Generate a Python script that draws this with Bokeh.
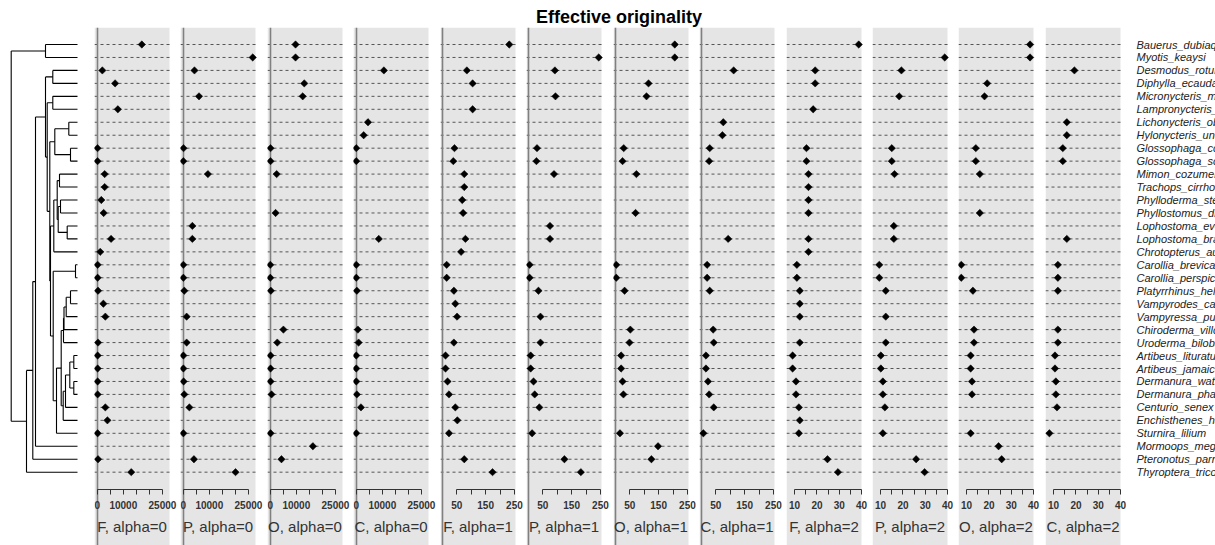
import math
import numpy as np
from bokeh.plotting import figure
from bokeh.models import Range1d, LinearAxis, FixedTicker
from bokeh.layouts import row, column
from bokeh.core.properties import value
from bokeh.embed import file_html
from bokeh.resources import INLINE

NA = None

species = [
    "Bauerus_dubiaquercus", "Myotis_keaysi", "Desmodus_rotundus", "Diphylla_ecaudata",
    "Micronycteris_microtis", "Lampronycteris_brachyotis", "Lichonycteris_obscura",
    "Hylonycteris_underwoodi", "Glossophaga_commissarisi", "Glossophaga_soricina",
    "Mimon_cozumelae", "Trachops_cirrhosus", "Phylloderma_stenops", "Phyllostomus_discolor",
    "Lophostoma_evotis", "Lophostoma_brasiliense", "Chrotopterus_auritus",
    "Carollia_brevicauda", "Carollia_perspicillata", "Platyrrhinus_helleri",
    "Vampyrodes_caraccioli", "Vampyressa_pusilla", "Chiroderma_villosum",
    "Uroderma_bilobatum", "Artibeus_lituratus", "Artibeus_jamaicensis",
    "Dermanura_watsoni", "Dermanura_phaeotis", "Centurio_senex", "Enchisthenes_hartii",
    "Sturnira_lilium", "Mormoops_megalophylla", "Pteronotus_parnellii", "Thyroptera_tricolor",
]

# ultrametric phylogeny, written clade by clade (branch lengths in Myr)
vesp = "(Bauerus_dubiaquercus:32,Myotis_keaysi:32)"
desmod = "(Desmodus_rotundus:24.7,Diphylla_ecaudata:24.7)"
micro = "(Micronycteris_microtis:24.7,Lampronycteris_brachyotis:24.7)"
gloss = ("((Lichonycteris_obscura:8.7,Hylonycteris_underwoodi:8.7):14,"
         "(Glossophaga_commissarisi:7,Glossophaga_soricina:7):15.7)")
phyllost = ("(((Mimon_cozumelae:18,Trachops_cirrhosus:18):2.3,"
            "((Phylloderma_stenops:17,Phyllostomus_discolor:17):2.3,"
            "(Lophostoma_evotis:10.3,Lophostoma_brasiliense:10.3):9):1):3.4,"
            "Chrotopterus_auritus:23.7)")
stenod = ("((((((Platyrrhinus_helleri:7,Vampyrodes_caraccioli:7):4.3,Vampyressa_pusilla:11.3):2.2,"
          "Chiroderma_villosum:13.5):0.5,Uroderma_bilobatum:14):2.3,"
          "((((Artibeus_lituratus:3.7,Artibeus_jamaicensis:3.7):4,"
          "(Dermanura_watsoni:3.7,Dermanura_phaeotis:3.7):4):4.3,Centurio_senex:12):2.3,"
          "Enchisthenes_hartii:14.3):2):4.7,Sturnira_lilium:21)")
carol_sten = "((Carollia_brevicauda:2,Carollia_perspicillata:2):22.3," + stenod + ":3.3)"
phyllostomidae = ("(" + desmod + ":7.3,(" + micro + ":5.6,(" + gloss + ":5,("
                  + phyllost + ":3.3," + carol_sten + ":2.7):0.7):2.6):1.7)")
tree_newick = ("(" + vesp + ":34.3,(((" + phyllostomidae + ":10,Mormoops_megalophylla:42):2.7,"
               "Pteronotus_parnellii:44.7):6.3,Thyroptera_tricolor:51):15.3);")

# effective originality, one list per index and alpha (NA = not computed)
F_a0 = [17100, NA, 1950, 6850, NA, 7900, NA, NA, 120, 120, 2850, 2850, 1550, 2450, NA, 5300, 1150,
        150, 150, 300, 2350, 3100, NA, 300, 150, 150, 150, 150, 3100, 3900, 150, NA, 300, 13050]
P_a0 = [NA, 26650, 4300, NA, 6050, NA, NA, NA, 120, 50, 9450, NA, NA, NA, 3500, 3500, NA,
        50, 50, 400, NA, 1300, NA, 1300, 50, 50, 150, 400, 2350, NA, 50, NA, 4100, 20050]
O_a0 = [9700, 9700, NA, 13050, 12450, NA, NA, NA, 120, 120, 2450, NA, NA, 2050, NA, NA, NA,
        20, 20, 230, NA, NA, 5050, 2700, 120, 120, 120, 500, NA, NA, 120, 16350, 4300, NA]
C_a0 = [NA, NA, 10600, NA, NA, NA, 4500, 2850, 10, 10, NA, NA, NA, NA, NA, 8650, NA,
        10, 10, 230, NA, NA, 620, 900, 10, 10, 10, 230, 1800, NA, 10, NA, NA, NA]

F_a1 = [232, NA, 85, 105, NA, 105, NA, NA, 42, 38, 76, 76, 69, 72, NA, 80, 65,
        15, 15, 40, 45, 51, NA, 40, 11, 11, 18, 23, 45, 52, 23, NA, 76, 174]
P_a1 = [NA, 244, 92, NA, 94, NA, NA, NA, 30, 28, 89, NA, NA, NA, 75, 75, NA,
        4.4, 4.4, 35, NA, 42, NA, 42, 8, 8, 18, 22, 38, NA, 13, NA, 125, 182]
O_a1 = [206, 206, NA, 115, 108, NA, NA, NA, 29, 25, 73, NA, NA, 70, NA, NA, NA,
        3.2, 3.2, 32, NA, NA, 52, 49, 20, 20, 25, 28, NA, NA, 16, 148, 125, NA]
C_a1 = [NA, NA, 112, NA, NA, NA, 76, 73, 29, 27, NA, NA, NA, NA, NA, 93, NA,
        20, 20, 29, NA, NA, 41, 43, 16, 16, 23, 27, 43, NA, 7, NA, NA, NA]

F_a2 = [38.7, NA, 19.2, 19.2, NA, 18.3, NA, NA, 15.3, 15.3, 16.2, 16.2, 16.2, 16.2, NA, 16.2, 16.2,
        11, 11, 12.3, 12.3, 12.3, NA, 12.3, 9.1, 9.1, 10.6, 10.6, 11.9, 12.3, 11.9, NA, 24.7, 29.4]
P_a2 = [NA, 38.7, 19.3, NA, 18.3, NA, NA, NA, 15, 15, 16.2, NA, NA, NA, 15.9, 15.9, NA,
        9.4, 9.4, 12.3, NA, 12.3, NA, 12.3, 10.1, 10.1, 11, 11, 11.9, NA, 11, NA, 25.9, 29.7]
O_a2 = [38.4, 38.4, NA, 19.2, 18, NA, NA, NA, 14.1, 14.1, 15.9, NA, NA, 15.9, NA, NA, NA,
        7.6, 7.6, 12.8, NA, NA, 13.3, 13.3, 11.8, 11.8, 12.4, 12.4, NA, NA, 11.8, 24.3, 25.7, NA]
C_a2 = [NA, NA, 19.3, NA, NA, NA, 15.9, 15.9, 14.1, 14.1, NA, NA, NA, NA, NA, 15.9, NA,
        11.9, 11.9, 11.9, NA, NA, 11.9, 11.9, 10.6, 10.6, 11, 11, 11.5, NA, 8.1, NA, NA, NA]

panels = [
    ("F", 0, F_a0), ("P", 0, P_a0), ("O", 0, O_a0), ("C", 0, C_a0),
    ("F", 1, F_a1), ("P", 1, P_a1), ("O", 1, O_a1), ("C", 1, C_a1),
    ("F", 2, F_a2), ("P", 2, P_a2), ("O", 2, O_a2), ("C", 2, C_a2),
]

# labelled ticks and unlabelled ticks of each alpha group
axis_ticks = {
    0: ([0, 10000, 25000], [5000, 15000, 20000]),
    1: ([50, 150, 250], [100, 200]),
    2: ([10, 20, 30, 40], [15, 25, 35]),
}

FONT = "Liberation Sans"
GRAY = "#e5e5e5"
INK = "#333333"

# ---- page geometry -------------------------------------------------------
PAGE_W = 1215
TITLE_H = 27
BODY_H = 518
ROW_PX = 12.96          # vertical distance between two species
FIRST_ROW_PX = 17       # first species below the top of the body
AXIS_PX = 462           # axis line below the top of the body
STRIP_PX = 499          # facet caption centre below the top of the body
TREE_W = 94
PANEL_W = 75
PANEL_PITCH = 86.45

n = len(species)
rows = np.arange(1, n + 1, dtype=float)
y_top = 1 - FIRST_ROW_PX / ROW_PX
y_bottom = y_top + BODY_H / ROW_PX
axis_y = y_top + AXIS_PX / ROW_PX
strip_y = y_top + STRIP_PX / ROW_PX


def y_range():
    return Range1d(start=y_bottom, end=y_top)


def bare(p):
    p.grid.visible = False
    p.outline_line_color = None
    return p


# ---- tree ------------------------------------------------------------------
def parse_newick(s):
    pos = 0

    def node():
        nonlocal pos
        kids = []
        if s[pos] == "(":
            pos += 1
            while True:
                kids.append(node())
                if s[pos] == ",":
                    pos += 1
                    continue
                pos += 1
                break
        start = pos
        while s[pos] not in ":,();":
            pos += 1
        name = s[start:pos]
        length = 0.0
        if s[pos] == ":":
            pos += 1
            start = pos
            while s[pos] not in ",();":
                pos += 1
            length = float(s[start:pos])
        return {"name": name, "len": length, "kids": kids}

    return node()


root = parse_newick(tree_newick)
tip_row = {name: i + 1 for i, name in enumerate(species)}
seg = {"x0": [], "y0": [], "x1": [], "y1": []}


def layout(nd, depth):
    nd["x"] = depth
    if not nd["kids"]:
        nd["y"] = tip_row[nd["name"]]
        return
    for k in nd["kids"]:
        layout(k, depth + k["len"])
    ys = [k["y"] for k in nd["kids"]]
    nd["y"] = (ys[0] + ys[-1]) / 2
    seg["x0"].append(nd["x"]); seg["x1"].append(nd["x"])
    seg["y0"].append(ys[0]); seg["y1"].append(ys[-1])
    for k in nd["kids"]:
        seg["x0"].append(nd["x"]); seg["x1"].append(k["x"])
        seg["y0"].append(k["y"]); seg["y1"].append(k["y"])


layout(root, 0.0)

tree_fig = figure(width=TREE_W, height=BODY_H, x_range=Range1d(-10.7, TREE_W - 10.7),
                  y_range=y_range(), output_backend="svg", toolbar_location=None,
                  x_axis_location=None, y_axis_location=None, min_border=0,
                  border_fill_color="white", background_fill_color="white")
bare(tree_fig)
tree_fig.segment(**seg, line_color="black", line_width=1.1)

# ---- dot-plot panels -------------------------------------------------------
limits = {}
for a in (0, 1, 2):
    vals = np.concatenate([np.array(v, dtype=float) for _, al, v in panels if al == a])
    lo, hi = np.nanmin(vals), np.nanmax(vals)
    pad = 0.04 * (hi - lo)
    limits[a] = (lo - pad, hi + pad)

lefts = [round(TREE_W + k * PANEL_PITCH) for k in range(len(panels) + 1)]
panel_figs = []
for k, (trait, alpha, vals) in enumerate(panels):
    fw = lefts[k + 1] - lefts[k]
    lo, hi = limits[alpha]
    # the grey panel spans [lo, hi]; the rest of the figure is the white gutter
    x_end = lo + (hi - lo) * fw / PANEL_W
    p = figure(width=fw, height=BODY_H, x_range=Range1d(lo, x_end), y_range=y_range(),
               output_backend="svg", toolbar_location=None,
               x_axis_location=None, y_axis_location=None, min_border=0,
               background_fill_color="white", border_fill_color="white")
    bare(p)
    p.quad(left=[lo], right=[hi], bottom=[y_bottom], top=[y_top], fill_color=GRAY, line_color=None)
    p.segment(x0=lo, x1=hi, y0=rows, y1=rows, line_color="#555555", line_width=1, line_dash="3 3")
    p.vspan(x=[0], line_color="#808080", line_width=1.6)
    p.scatter(x=np.array(vals, dtype=float), y=rows, marker="square", angle=math.pi / 4,
              size=5.2, fill_color="black", line_color="black", line_width=0.5)

    major, minor = axis_ticks[alpha]
    ax = LinearAxis(ticker=FixedTicker(ticks=major, minor_ticks=minor),
                    bounds=(min(major + minor), max(major + minor)),
                    fixed_location=axis_y)
    ax.axis_line_color = INK
    ax.major_tick_line_color = INK
    ax.minor_tick_line_color = INK
    ax.major_tick_in = 0
    ax.major_tick_out = 5
    ax.minor_tick_in = 0
    ax.minor_tick_out = 5
    ax.major_label_text_font = FONT
    ax.major_label_text_font_size = "10px"
    ax.major_label_text_font_style = "bold"
    ax.major_label_text_color = INK
    ax.major_label_standoff = 6
    p.add_layout(ax, "below")

    p.text(x=[(lo + hi) / 2], y=[strip_y], text=[f"{trait}, alpha={alpha}"],
           text_font=value(FONT), text_font_size="15px", text_color=INK,
           text_align="center", text_baseline="middle")
    panel_figs.append(p)

# ---- species names ---------------------------------------------------------
label_w = PAGE_W - lefts[-1]
label_fig = figure(width=label_w, height=BODY_H, x_range=Range1d(0, label_w), y_range=y_range(),
                   output_backend="svg", toolbar_location=None,
                   x_axis_location=None, y_axis_location=None, min_border=0,
                   border_fill_color="white", background_fill_color="white")
bare(label_fig)
label_fig.text(x=np.full(n, 5.0), y=rows, text=species, text_font=value(FONT),
               text_font_style="italic", text_font_size="11px", text_color="#222222",
               text_align="left", text_baseline="middle")

# ---- title -----------------------------------------------------------------
title_fig = figure(width=PAGE_W, height=TITLE_H, x_range=Range1d(0, PAGE_W),
                   y_range=Range1d(0, TITLE_H), output_backend="svg", toolbar_location=None,
                   x_axis_location=None, y_axis_location=None, min_border=0,
                   border_fill_color="white", background_fill_color="white")
bare(title_fig)
title_fig.text(x=[618.5], y=[10.5], text=["Effective originality"], text_font=value(FONT),
               text_font_style="bold", text_font_size="18px", text_color="black",
               text_align="center", text_baseline="middle")

page = column(title_fig, row(tree_fig, *panel_figs, label_fig, spacing=0), spacing=0)
open("out.html", "w").write(file_html(page, INLINE))
